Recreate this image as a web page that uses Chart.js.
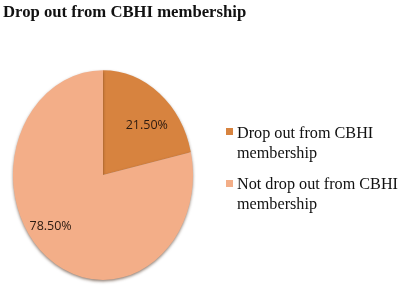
<!DOCTYPE html>
<html>
<head>
<meta charset="utf-8">
<script src="https://cdn.jsdelivr.net/npm/chart.js@4.4.1/dist/chart.umd.min.js"></script>
<style>
html,body{margin:0;padding:0;background:#fff;}
#wrap{width:405px;height:286px;position:relative;}
</style>
</head>
<body>
<div id="wrap"><canvas id="c"></canvas></div>
<script>
const titleText = "Drop out from CBHI membership";
const categories = ["Drop out from CBHI membership", "Not drop out from CBHI membership"];
const legendLines = [["Drop out from CBHI", "membership"], ["Not drop out from CBHI", "membership"]];
const values = [21.5, 78.5];
const valueLabels = ["21.50%", "78.50%"];
const colors = ["#D7833F", "#F3AE88"];

const Y_STRETCH = 1.165;

const ellipsePlugin = {
  id: 'ellipse',
  beforeDatasetsDraw(chart) {
    const meta = chart.getDatasetMeta(0);
    const a = meta.data[0];
    const ctx = chart.ctx;
    ctx.save();
    ctx.translate(a.x, a.y);
    ctx.scale(1, Y_STRETCH);
    ctx.translate(-a.x, -a.y);
    ctx.shadowColor = 'rgba(60,30,10,0.55)';
    ctx.shadowBlur = 3;
    ctx.shadowOffsetY = 1.5;
  },
  afterDatasetsDraw(chart) {
    chart.ctx.restore();
  }
};

const labelPos = [{frac: 0.59, r: 0.68}, {frac: 0.54, r: 0.76}];

const decoPlugin = {
  id: 'deco',
  afterDraw(chart) {
    const ctx = chart.ctx;
    ctx.save();
    // title
    ctx.fillStyle = '#111';
    ctx.font = 'bold 16.7px "Liberation Serif", "Times New Roman", serif';
    ctx.textBaseline = 'alphabetic';
    ctx.textAlign = 'left';
    ctx.fillText(titleText, 3, 17);
    // data labels
    const meta = chart.getDatasetMeta(0);
    ctx.font = '12.5px "Open Sans", sans-serif';
    ctx.fillStyle = '#2b1a10';
    ctx.textAlign = 'center';
    ctx.textBaseline = 'middle';
    meta.data.forEach((arc, i) => {
      const p = arc.getProps(['x','y','startAngle','endAngle','outerRadius'], true);
      const ang = p.startAngle + (p.endAngle - p.startAngle) * labelPos[i].frac;
      const d = p.outerRadius * labelPos[i].r;
      const x = p.x + Math.cos(ang) * d;
      const y = p.y + Math.sin(ang) * d * Y_STRETCH;
      ctx.fillText(valueLabels[i], x, y);
    });
    // legend
    const lx = 226, boxTop = [128, 180], baseTop = [138, 189], lh = 20;
    ctx.textAlign = 'left';
    ctx.textBaseline = 'alphabetic';
    ctx.font = '16.2px "Liberation Serif", "Times New Roman", serif';
    legendLines.forEach((lines, i) => {
      ctx.fillStyle = colors[i];
      ctx.fillRect(lx, boxTop[i], 7, 7);
      ctx.fillStyle = '#111';
      lines.forEach((t, j) => ctx.fillText(t, lx + 11, baseTop[i] + j * lh));
    });
    ctx.restore();
  }
};

new Chart(document.getElementById('c'), {
  type: 'pie',
  data: {
    labels: categories,
    datasets: [{
      data: values,
      backgroundColor: colors,
      borderWidth: 0
    }]
  },
  options: {
    responsive: true,
    maintainAspectRatio: false,
    animation: false,
    layout: { padding: { left: 13, right: 212, top: 85, bottom: 21 } },
    plugins: {
      legend: { display: false },
      tooltip: { enabled: false },
      title: { display: false }
    }
  },
  plugins: [ellipsePlugin, decoPlugin]
});
</script>
</body>
</html>
